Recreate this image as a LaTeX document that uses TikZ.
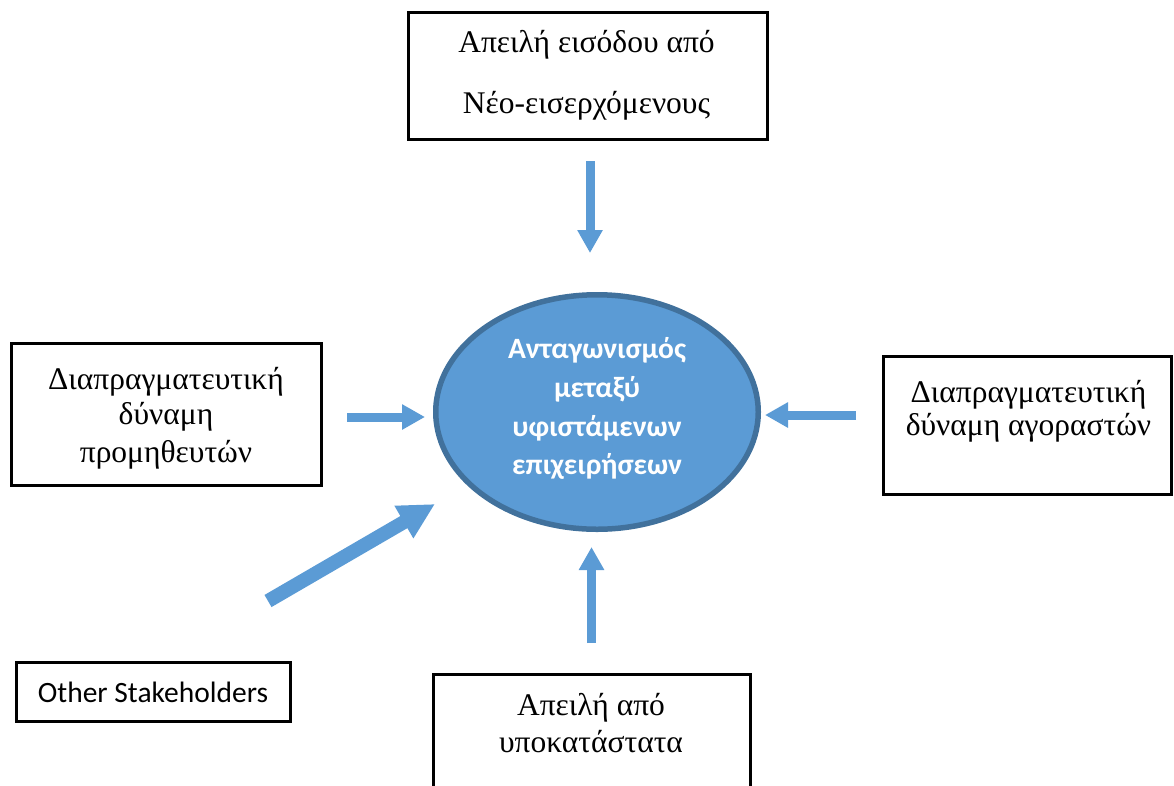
\documentclass[tikz,border=0pt]{standalone}
\usepackage{fontspec}
\setmainfont{Liberation Serif}
\newfontfamily\calib{Carlito}
\usetikzlibrary{arrows.meta,shapes.geometric}
\definecolor{flowblue}{HTML}{5B9BD5}
\definecolor{rimblue}{HTML}{41719C}
\begin{document}
\begin{tikzpicture}[x=1pt,y=-1pt,
  box/.style={draw=black,line width=3pt,rectangle,inner sep=0pt},
  grk/.style={anchor=base,inner sep=0pt,font=\fontsize{31.5}{36}\selectfont},
  flow/.style={draw=flowblue,line width=9pt,-{Triangle[width=24pt,length=23pt]}},
  bigflow/.style={draw=flowblue,line width=14pt,-{Triangle[width=35pt,length=36pt]}},
  core/.style={ellipse,draw=rimblue,fill=flowblue,line width=5.5pt,inner sep=0pt},
  coretext/.style={anchor=base,inner sep=0pt,text=white,font=\calib\bfseries\fontsize{29.5}{36}\selectfont}]
\useasboundingbox (0,0) rectangle (1174,785);
\clip (0,0) rectangle (1174,785);

% boxes
\node[box,minimum width=359pt,minimum height=127pt] (entry) at (588,76) {};
\node[box,minimum width=310pt,minimum height=142pt] (suppliers) at (166.5,414.5) {};
\node[box,minimum width=288pt,minimum height=138pt] (buyers) at (1027.5,425.5) {};
\node[box,minimum width=274pt,minimum height=59pt] (others) at (153.5,692) {};
\node[box,minimum width=317pt,minimum height=135.5pt] (subst) at (592,742) {};

% centre
\node[core,minimum width=322.5pt,minimum height=234.5pt] (rivalry) at (597,412) {};

% box texts
\node[grk] (entry1) at (586.5,52) {Απειλή εισόδου από};
\node[grk] (entry2) at (586.5,113) {Νέο-εισερχόμενους};
\node[grk] (sup1) at (166,389) {Διαπραγματευτική};
\node[grk] (sup2) at (166,424) {δύναμη};
\node[grk] (sup3) at (166,462) {προμηθευτών};
\node[grk] (buy1) at (1028.5,402) {Διαπραγματευτική};
\node[grk] (buy2) at (1028.5,435) {δύναμη αγοραστών};
\node[grk] (sub1) at (591,715) {Απειλή από};
\node[grk] (sub2) at (591,752) {υποκατάστατα};
\node[anchor=base,inner sep=0pt,font=\calib\fontsize{29.5}{34}\selectfont] (oth1) at (153,702) {Other Stakeholders};

% centre text
\node[coretext] (core1) at (597,358) {Ανταγωνισμός};
\node[coretext] (core2) at (597,397) {μεταξύ};
\node[coretext] (core3) at (597,436) {υφιστάμενων};
\node[coretext] (core4) at (597,474) {επιχειρήσεων};

% arrows
\coordinate (a1s) at (590,161);  \coordinate (a1e) at (590,253);
\coordinate (a2s) at (347,417);  \coordinate (a2e) at (425,417);
\coordinate (a3s) at (856,415);  \coordinate (a3e) at (765,415);
\coordinate (a4s) at (591.5,643); \coordinate (a4e) at (591.5,547);
\coordinate (a5s) at (268,601);  \coordinate (a5e) at (435,504);
\draw[flow] (a1s) -- (a1e);
\draw[flow] (a2s) -- (a2e);
\draw[flow] (a3s) -- (a3e);
\draw[flow] (a4s) -- (a4e);
\draw[bigflow] (a5s) -- (a5e);
\end{tikzpicture}
\end{document}
